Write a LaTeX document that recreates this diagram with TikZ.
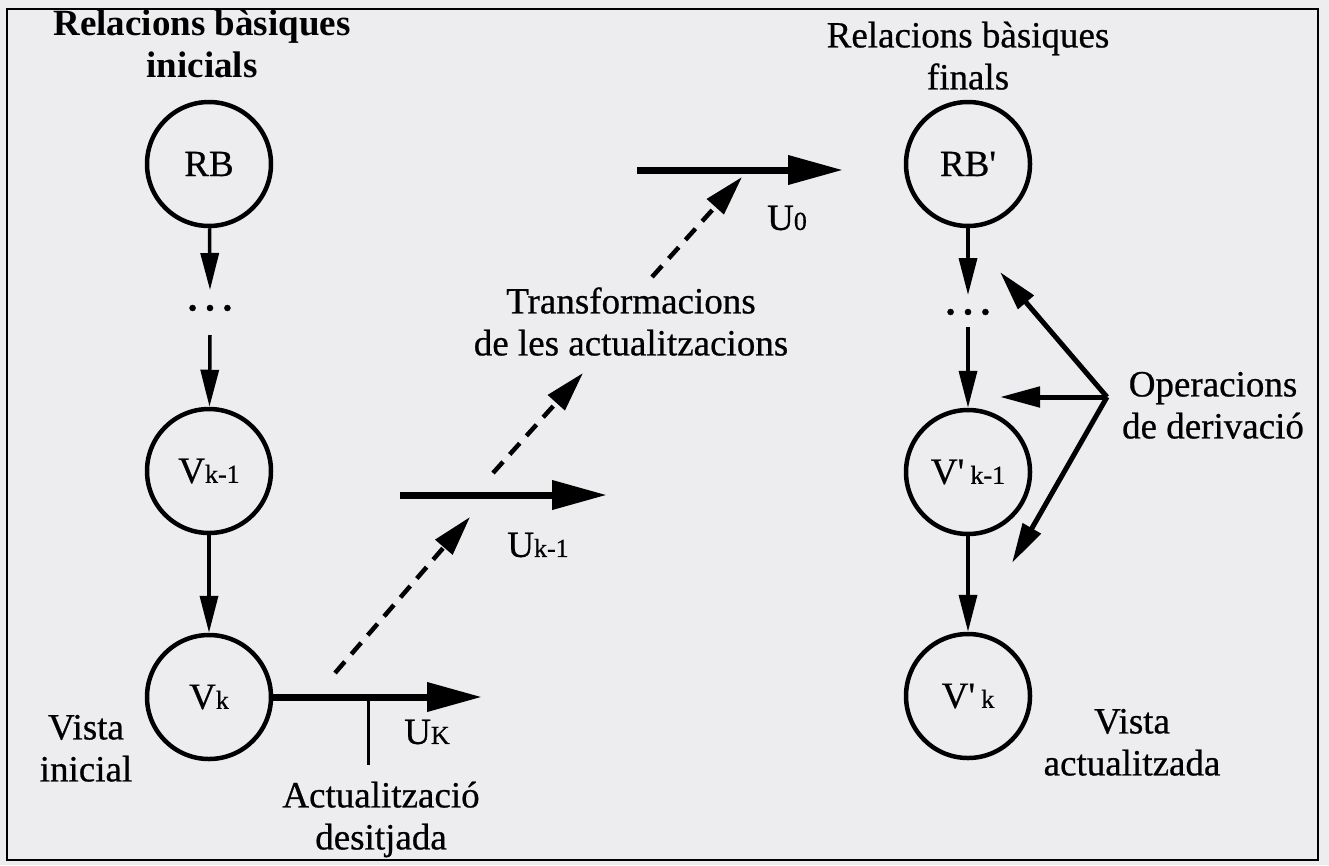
\documentclass[tikz,border=0pt]{standalone}
\usepackage{fontspec}
\setmainfont{Liberation Serif}
\newfontfamily\heavy{Liberation Serif}[FakeBold=0.6]
\usetikzlibrary{arrows.meta}
\definecolor{paper}{RGB}{237,237,239}
\newcommand\smalltxt[1]{{\fontsize{26}{26}\selectfont #1}}
\begin{document}
\begin{tikzpicture}[x=1pt,y=-1pt,
  lbl/.style={font=\heavy\fontsize{37}{42}\selectfont, inner sep=0pt, align=center},
  dotsl/.style={font=\heavy\fontsize{52}{52}\selectfont, inner sep=0pt},
  circ/.style={draw, circle, line width=4.5pt, minimum size=124pt, inner sep=0pt, font=\heavy\fontsize{37}{42}\selectfont},
  thinarr/.style={line width=3.5pt, -{Triangle[length=37pt,width=18pt]}},
  thickarr/.style={line width=7pt, -{Triangle[length=55pt,width=28pt]}},
  dsharr/.style={line width=4.5pt, dash pattern=on 15pt off 10pt, -{Triangle[length=40pt,width=22pt]}},
  oparr/.style={line width=5pt, -{Triangle[length=40pt,width=20pt]}},
]
\fill[paper] (0,0) rectangle (1329,865);
\useasboundingbox (0,0) rectangle (1329,865);
\draw[line width=2pt] (7,9) rectangle (1318,860);

% titles
\node[lbl, font=\fontsize{37}{42}\selectfont\bfseries] (t1) at (202,48) {Relacions bàsiques\strut\\inicials\strut};
\node[lbl] (t2) at (968,60) {Relacions bàsiques\strut\\finals\strut};

% left column
\node[circ] (rb) at (209,164) {RB};
\node[dotsl] (d1) at (210,308) {\ldots};
\node[circ] (vk1) at (209,471) {V\smalltxt{k-1}};
\node[circ] (vk) at (209,697) {V\smalltxt{k}};

% right column
\node[circ] (rbp) at (968,164) {RB\textquotesingle};
\node[dotsl] (d2) at (968,312) {\ldots};
\node[circ] (vpk1) at (968,472) {V\textquotesingle\,\smalltxt{k-1}};
\node[circ] (vpk) at (968,696) {V\textquotesingle\,\smalltxt{k}};

% labels
\node[lbl] (vi) at (86,752) {Vista\strut\\inicial\strut};
\node[lbl] (va) at (1132,746) {Vista\strut\\actualitzada\strut};
\node[lbl] (ad) at (381,820) {Actualització\strut\\desitjada\strut};
\node[lbl] (tr) at (631,326) {Transformacions\strut\\de les actualitzacions\strut};
\node[lbl] (od) at (1213,409) {Operacions\strut\\de derivació\strut};
\node[lbl] (luk) at (427,732) {U\smalltxt{K}};
\node[lbl] (luk1) at (538,545) {U\smalltxt{k-1}};
\node[lbl] (lu0) at (787,218) {U\smalltxt{0}};

% coordinates
\coordinate (ukend) at (482,697);
\coordinate (tickb) at (368,765);
\coordinate (uk1s) at (400,495);
\coordinate (uk1e) at (607,495);
\coordinate (u0s) at (637,170);
\coordinate (u0e) at (843,170);
\coordinate (ds1) at (335,673);
\coordinate (de1) at (470,517);
\coordinate (ds2) at (493,473);
\coordinate (de2) at (583,373);
\coordinate (ds3) at (652,277);
\coordinate (de3) at (742,177);
\coordinate (op) at (1107,397);
\coordinate (ot) at (1000,272);
\coordinate (ol) at (1000,397);
\coordinate (ob) at (1012,563);

% left arrows
\draw[thinarr] (rb) -- ([yshift=18pt]d1.center);
\draw[thinarr] ([yshift=-27pt]d1.center) -- (vk1);
\draw[thinarr] (vk1) -- (vk);

% right arrows
\draw[thinarr] (rbp) -- ([yshift=17pt]d2.center);
\draw[thinarr] ([yshift=-15pt]d2.center) -- (vpk1);
\draw[thinarr] (vpk1) -- (vpk);

% updates
\draw[thickarr] (vk) -- (ukend);
\draw[line width=3pt] (tickb |- vk.center) -- (tickb);
\draw[thickarr] (uk1s) -- (uk1e);
\draw[thickarr] (u0s) -- (u0e);

% transformations
\draw[dsharr] (ds1) -- (de1);
\draw[dsharr] (ds2) -- (de2);
\draw[dsharr] (ds3) -- (de3);

% derivation operations
\draw[oparr] (op) -- (ot);
\draw[oparr] (op) -- (ol);
\draw[oparr] (op) -- (ob);
\end{tikzpicture}
\end{document}
